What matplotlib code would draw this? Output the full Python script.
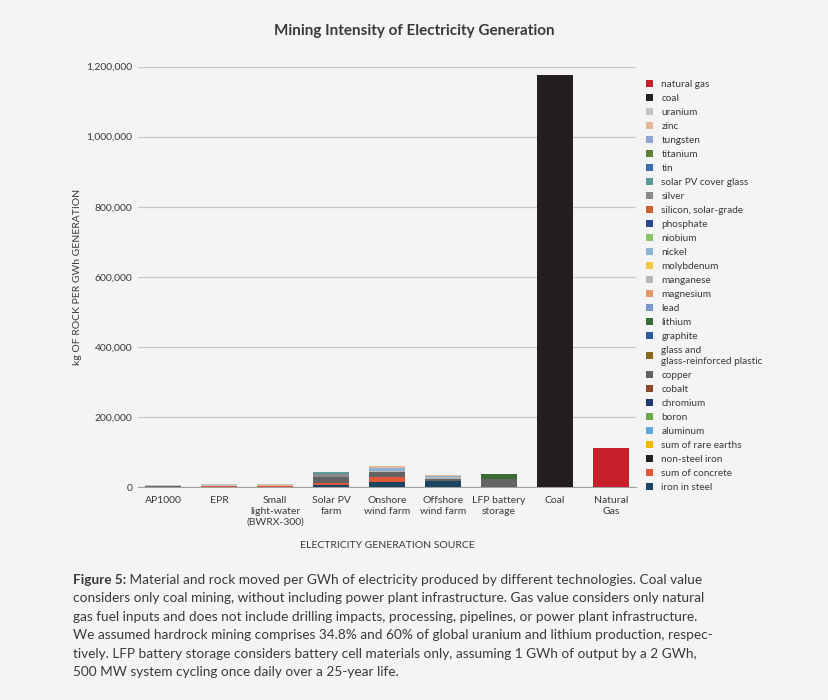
import matplotlib
matplotlib.use('Agg')
import matplotlib.pyplot as plt
from matplotlib.patches import Patch
from matplotlib.ticker import FuncFormatter

plt.rcParams['font.family'] = ['Lato', 'DejaVu Sans']

categories = ['AP1000', 'EPR', 'Small\nlight-water\n(BWRX-300)', 'Solar PV\nfarm',
              'Onshore\nwind farm', 'Offshore\nwind farm', 'LFP battery\nstorage',
              'Coal', 'Natural\nGas']

# materials in stacking order (bottom -> top)
materials = ['iron in steel', 'sum of concrete', 'non-steel iron', 'sum of rare earths',
             'aluminum', 'boron', 'chromium', 'cobalt', 'copper',
             'glass and\nglass-reinforced plastic', 'graphite', 'lithium', 'lead',
             'magnesium', 'manganese', 'molybdenum', 'nickel', 'niobium', 'phosphate',
             'silicon, solar-grade', 'silver', 'solar PV cover glass', 'tin', 'titanium',
             'tungsten', 'zinc', 'uranium', 'coal', 'natural gas']

colors = ['#1b4560', '#e0583a', '#231f20', '#f2b705',
          '#5fa8d8', '#6aaa4a', '#1f3a6e', '#8b4a2a', '#636363',
          '#8a6a1a', '#2d5a9a', '#3b6b34', '#7a9ad0',
          '#e8966a', '#b8b8b8', '#f5c842', '#8fb3d6', '#8cc26a', '#2b4a8a',
          '#c8602a', '#8a8a8a', '#5a9a95', '#3a6fae', '#5e7e3a',
          '#8fa3d4', '#e3b79a', '#c4c4c4', '#231f20', '#c8202a']

# kg of rock per GWh
iron_in_steel = [500, 500, 500, 7500, 14000, 17000, 0, 0, 0]
sum_of_concrete = [700, 3300, 3300, 3800, 16000, 0, 0, 0, 0]
copper = [1500, 1000, 0, 19000, 12000, 5700, 24000, 0, 0]
lithium = [0, 0, 0, 0, 0, 0, 14000, 0, 0]
manganese = [0, 0, 0, 0, 5000, 5700, 0, 0, 0]
nickel = [0, 0, 0, 0, 7500, 3800, 0, 0, 0]
silver = [0, 0, 0, 7600, 0, 0, 0, 0, 0]
solar_glass = [0, 0, 0, 4800, 0, 0, 0, 0, 0]
zinc = [0, 0, 1200, 0, 5000, 2850, 0, 0, 0]
uranium = [4500, 4000, 3500, 0, 0, 0, 0, 0, 0]
coal = [0, 0, 0, 0, 0, 0, 0, 1177000, 0]
natural_gas = [0, 0, 0, 0, 0, 0, 0, 0, 113000]

values = {m: [0] * len(categories) for m in materials}
values['iron in steel'] = iron_in_steel
values['sum of concrete'] = sum_of_concrete
values['copper'] = copper
values['lithium'] = lithium
values['manganese'] = manganese
values['nickel'] = nickel
values['silver'] = silver
values['solar PV cover glass'] = solar_glass
values['zinc'] = zinc
values['uranium'] = uranium
values['coal'] = coal
values['natural gas'] = natural_gas

bg = '#f4f4f4'
txt = '#3a3a3a'

fig = plt.figure(figsize=(8.29, 7.0), dpi=100, facecolor=bg)
ax = fig.add_axes([0.1665, 0.304, 0.6007, 0.601], facecolor=bg)

x = range(len(categories))
bottom = [0] * len(categories)
for m, c in zip(materials, colors):
    v = values[m]
    ax.bar(x, v, bottom=bottom, width=0.65, color=c, zorder=3)
    bottom = [b + vi for b, vi in zip(bottom, v)]

ax.set_xlim(-0.45, len(categories) - 0.55)
ax.set_ylim(0, 1200000)
ax.set_yticks(range(0, 1200001, 200000))
ax.yaxis.set_major_formatter(FuncFormatter(lambda v, p: f'{int(v):,}'))
ax.grid(axis='y', color='#c8c8c8', linewidth=0.9, zorder=0)
ax.set_axisbelow(True)
for s in ['top', 'right', 'left']:
    ax.spines[s].set_visible(False)
ax.spines['bottom'].set_color('#a0a0a0')
ax.tick_params(axis='both', length=0, labelsize=7.5, colors=txt)
ax.tick_params(axis='y', pad=4)
ax.tick_params(axis='x', pad=6)
ax.set_xticks(list(x))
ax.set_xticklabels(categories, linespacing=1.3)
ax.set_ylabel('kg OF ROCK PER GWh GENERATION', fontsize=7.5, color=txt, labelpad=3)
ax.set_xlabel('ELECTRICITY GENERATION SOURCE', fontsize=7.5, color=txt, labelpad=10)

fig.text(0.5, 0.955, 'Mining Intensity of Electricity Generation', ha='center', va='center',
         fontsize=11, fontweight='bold', color=txt)

handles = [Patch(facecolor=c, edgecolor='none') for c in colors][::-1]
labels = materials[::-1]
leg = fig.legend(handles, labels, loc='upper left', bbox_to_anchor=(0.775, 0.891),
                 frameon=False, fontsize=7.2, handlelength=0.7, handleheight=0.7,
                 handletextpad=0.8, labelspacing=0.5, borderaxespad=0)
for t in leg.get_texts():
    t.set_color(txt)

caption = [
    'Material and rock moved per GWh of electricity produced by different technologies. Coal value',
    'considers only coal mining, without including power plant infrastructure. Gas value considers only natural',
    'gas fuel inputs and does not include drilling impacts, processing, pipelines, or power plant infrastructure.',
    'We assumed hardrock mining comprises 34.8% and 60% of global uranium and lithium production, respec-',
    'tively. LFP battery storage considers battery cell materials only, assuming 1 GWh of output by a 2 GWh,',
    '500 MW system cycling once daily over a 25-year life.',
]
y0 = 1 - 580 / 700
dy = 18.4 / 700
fs = 9.8
lead_txt = fig.text(73 / 829, y0, 'Figure 5:', fontsize=fs, fontweight='bold', color=txt,
                    va='center', ha='left')
ax.annotate(' ' + caption[0], xy=(1, 0.5), xycoords=lead_txt, va='center', ha='left',
            fontsize=fs, color=txt, annotation_clip=False)
for i, line in enumerate(caption[1:], start=1):
    fig.text(73 / 829, y0 - i * dy, line, fontsize=fs, color=txt, va='center', ha='left')

fig.savefig('out.png', dpi=100, facecolor=bg)
